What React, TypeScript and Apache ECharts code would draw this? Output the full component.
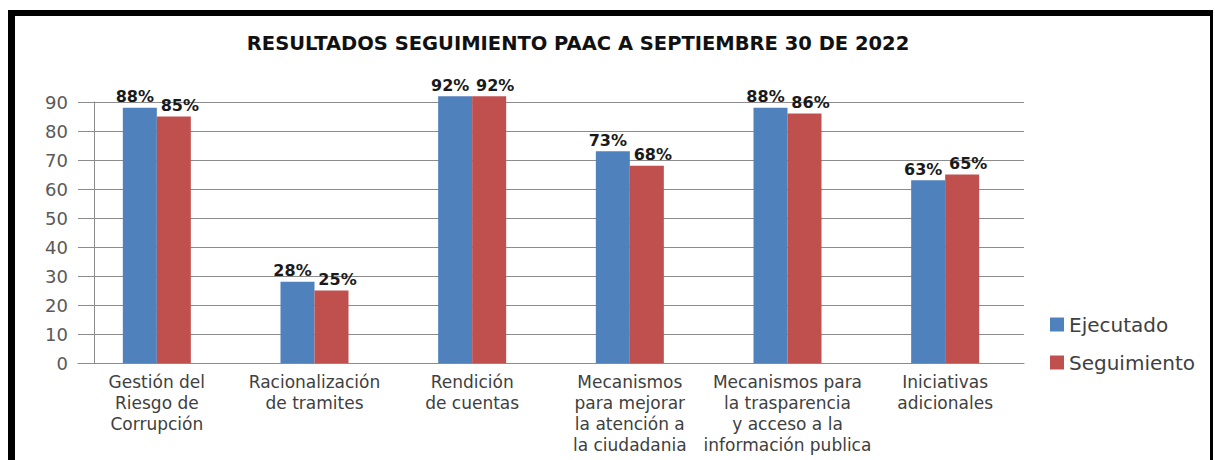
import React, { useEffect, useRef } from "react";
import * as echarts from "echarts";

const categories = [
  "Gestión del\nRiesgo de\nCorrupción",
  "Racionalización\nde tramites",
  "Rendición\nde cuentas",
  "Mecanismos\npara mejorar\nla atención a\nla ciudadania",
  "Mecanismos para\nla trasparencia\ny acceso a la\ninformación publica",
  "Iniciativas\nadicionales",
];
const ejecutado = [88, 28, 92, 73, 88, 63];
const seguimiento = [85, 25, 92, 68, 86, 65];
const yTicks = { min: 0, max: 90, interval: 10 };
const titleText = "RESULTADOS SEGUIMIENTO PAAC A SEPTIEMBRE 30 DE 2022";

export default function App() {
  const ref = useRef<HTMLDivElement>(null);
  useEffect(() => {
    if (!ref.current) return;
    const chart = echarts.init(ref.current, null, { renderer: "svg" });
    const labelBase = {
      show: true,
      position: "top" as const,
      distance: 3,
      formatter: "{c}%",
      fontFamily: "DejaVu Sans",
      fontWeight: "bold" as const,
      fontSize: 16,
      color: "#1a1a1a",
    };
    chart.setOption({
      animation: false,
      backgroundColor: "#ffffff",
      graphic: [
        { type: "rect", shape: { x: 8, y: 10, width: 1205, height: 6 }, style: { fill: "#000" } },
        { type: "rect", shape: { x: 8, y: 10, width: 7, height: 450 }, style: { fill: "#000" } },
        { type: "rect", shape: { x: 1210, y: 10, width: 3, height: 450 }, style: { fill: "#000" } },
        {
          type: "text",
          x: 578,
          y: 33,
          style: {
            text: titleText,
            textAlign: "center",
            fontFamily: "DejaVu Sans",
            fontWeight: "bold",
            fontSize: 19.5,
            fill: "#111",
          },
        },
      ],
      legend: {
        orient: "vertical",
        left: 1045,
        top: 309,
        itemWidth: 14,
        itemHeight: 14,
        itemGap: 17,
        icon: "rect",
        textStyle: { fontFamily: "DejaVu Sans", fontSize: 20, color: "#404040", lineHeight: 21 },
        data: ["Ejecutado", "Seguimiento"],
      },
      grid: { left: 78, right: 191, top: 102, bottom: 97, containLabel: false },
      xAxis: {
        type: "category",
        data: categories,
        axisLine: { lineStyle: { color: "#8c8c8c", width: 1 } },
        axisTick: { show: false },
        axisLabel: {
          interval: 0,
          margin: 8,
          fontFamily: "DejaVu Sans",
          fontSize: 17,
          lineHeight: 21,
          color: "#404040",
        },
      },
      yAxis: {
        type: "value",
        min: yTicks.min,
        max: yTicks.max,
        interval: yTicks.interval,
        offset: -16,
        axisLine: { show: true, lineStyle: { color: "#8c8c8c", width: 1 } },
        axisTick: { show: true, inside: false, length: 9, lineStyle: { color: "#8c8c8c" } },
        splitLine: { show: true, lineStyle: { color: "#8c8c8c", width: 1 } },
        axisLabel: {
          margin: 26,
          fontFamily: "DejaVu Sans",
          fontSize: 18,
          color: "#595959",
        },
      },
      series: [
        {
          name: "Ejecutado",
          type: "bar",
          data: ejecutado,
          barWidth: 34,
          barGap: "0%",
          clip: false,
          itemStyle: { color: "#4F81BD" },
          label: { ...labelBase, offset: [-5, 0] },
        },
        {
          name: "Seguimiento",
          type: "bar",
          data: seguimiento,
          barWidth: 34,
          barGap: "0%",
          clip: false,
          itemStyle: { color: "#C0504D" },
          label: { ...labelBase, offset: [6, 0] },
        },
      ],
    });
    return () => chart.dispose();
  }, []);
  return (
    <div
      ref={ref}
      style={{ position: "absolute", left: 0, top: 0, width: 1215, height: 460 }}
    />
  );
}
